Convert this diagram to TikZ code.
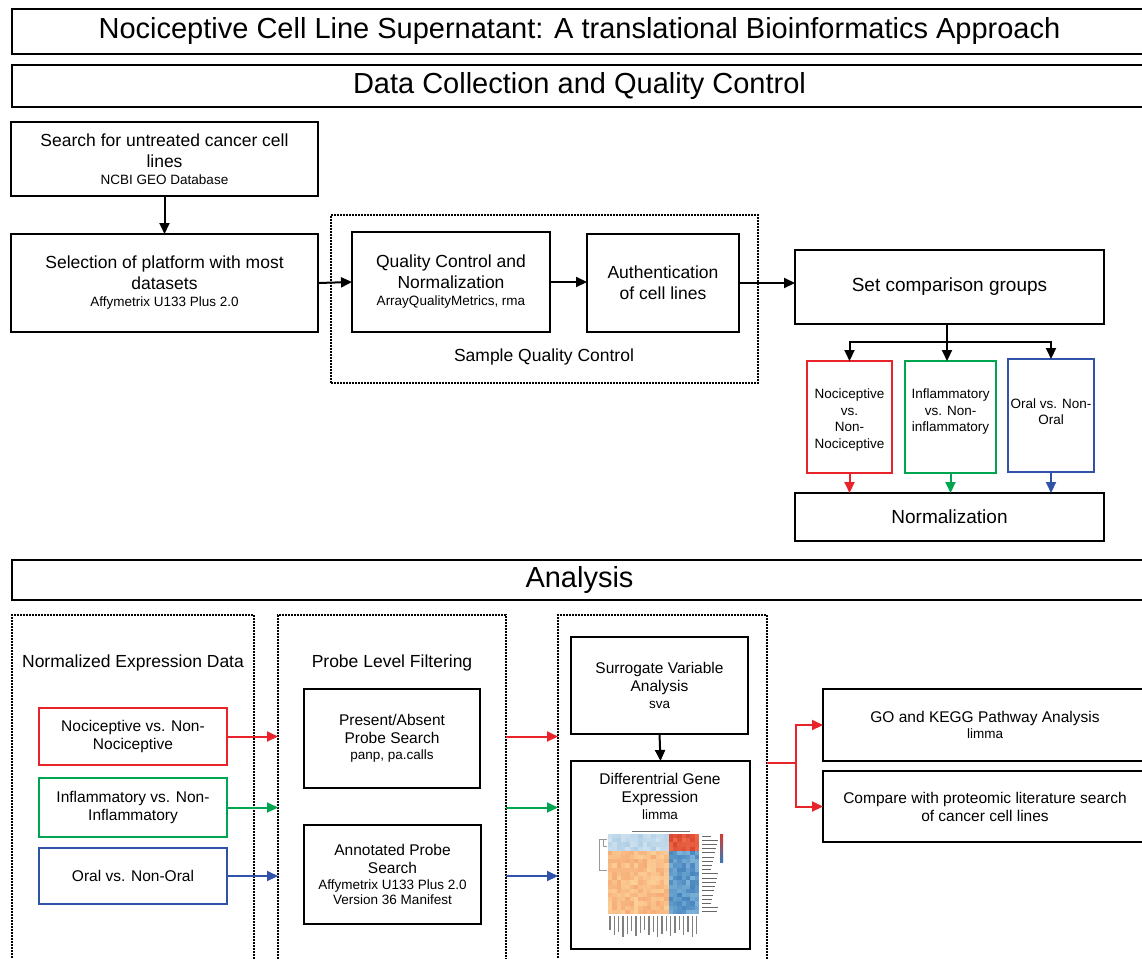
\documentclass[tikz,border=0pt]{standalone}
\usepackage{fontspec}
\setmainfont{Liberation Sans}
\usetikzlibrary{arrows.meta}
\definecolor{cred}{RGB}{232,35,42}
\definecolor{cgreen}{RGB}{0,165,80}
\definecolor{cblue}{RGB}{48,82,168}
\definecolor{hmA}{RGB}{210,228,240}\definecolor{hmAd}{RGB}{165,200,226}
\definecolor{hmB}{RGB}{238,110,72}\definecolor{hmBd}{RGB}{212,58,44}
\definecolor{hmC}{RGB}{252,208,152}\definecolor{hmCd}{RGB}{244,160,108}
\definecolor{hmD}{RGB}{125,178,216}\definecolor{hmDd}{RGB}{55,120,182}
\newcommand\mysub[1]{{\fontsize{13.5}{16}\selectfont #1}}
\begin{document}
\begin{tikzpicture}[x=1pt,y=-1pt,
 box/.style={draw=black, line width=2.2pt, inner sep=0pt, outer sep=0pt, align=center},
 cbox/.style={draw=#1, line width=2pt, inner sep=0pt, outer sep=0pt, align=center},
 dotbox/.style={draw=black, line width=2pt, dash pattern=on 1.6pt off 1.4pt, inner sep=0pt, outer sep=0pt},
 sz/.style 2 args={minimum width=#1pt, minimum height=#2pt},
 arr/.style={line width=2pt, -{Triangle[length=11pt,width=10pt]}},
 bigf/.style={font=\fontsize{29}{34}\selectfont},
 upf/.style={font=\fontsize{17.5}{21}\selectfont},
 lowf/.style={font=\fontsize{15.5}{18}\selectfont},
 smf/.style={font=\fontsize{13.5}{16.5}\selectfont},
 midf/.style={font=\fontsize{19}{23}\selectfont},
 txt/.style={inner sep=0pt, align=center},
]
\useasboundingbox (0,0) rectangle (1142,958);
\clip (0,0) rectangle (1142,958);
\fill[white] (0,0) rectangle (1142,958);

% headers
\node[box,bigf,sz={1135}{45}] (title) at (579.5,31.5) {Nociceptive Cell Line Supernatant: A translational Bioinformatics Approach};
\node[box,bigf,sz={1135}{42}] (sec1) at (579.5,86) {Data Collection and Quality Control};

% data collection
\node[box,upf,sz={307}{74}] (search) at (164.5,159) {Search for untreated cancer cell\\lines\\[-4pt]\mysub{NCBI GEO Database}};
\node[box,upf,sz={307}{98}] (sel) at (164.5,283) {Selection of platform with most\\datasets\\[-4pt]\mysub{Affymetrix U133 Plus 2.0}};
\node[dotbox,sz={427}{168}] (sqc) at (544.5,299) {};
\node[box,upf,sz={198}{100}] (qc) at (451,282) {Quality Control and\\Normalization\\[-4pt]\mysub{ArrayQualityMetrics, rma}};
\node[box,upf,sz={152}{98}] (auth) at (663,283) {Authentication\\of cell lines};
\node[txt,upf] (sqclbl) at (544,357) {Sample Quality Control};
\node[box,midf,sz={309}{74}] (set) at (949.5,287) {Set comparison groups};

\node[cbox=cred,sz={85}{112}] (nocibox) at (849.5,417) {};
\node[txt,smf] (nocitxt) at (849.5,420) {Nociceptive\\vs.\\Non-\\Nociceptive};
\node[cbox=cgreen,sz={91}{112}] (inflbox) at (950.5,417) {};
\node[txt,smf] (infltxt) at (950.5,412) {Inflammatory\\vs. Non-\\inflammatory};
\node[cbox=cblue,sz={86}{113}] (oralbox) at (1051,415.5) {};
\node[txt,smf] (oraltxt) at (1051,411.5) {Oral vs. Non-\\Oral};
\node[box,midf,sz={309}{48}] (norm) at (949.5,517) {Normalization};

\coordinate (br) at (947,342);

\draw[arr] (search.south) -- (sel.north);
\draw[arr] (sel.east) -- (qc.west);
\draw[arr] (qc.east) -- (qc.east -| auth.west);
\draw[arr] (auth.east) -- (auth.east -| set.west);
\draw[line width=2pt] (set.south -| br) -- (br);
\draw[arr] (br) -| (nocibox.north);
\draw[arr] (br) -- (br |- inflbox.north);
\draw[arr] (br) -| (oralbox.north);
\draw[arr,cred] (nocibox.south) -- (nocibox.south |- norm.north);
\draw[arr,cgreen] (inflbox.south) -- (inflbox.south |- norm.north);
\draw[arr,cblue] (oralbox.south) -- (oralbox.south |- norm.north);

% analysis
\node[box,bigf,sz={1135}{40}] (anal) at (579.5,580) {Analysis};
\node[dotbox,sz={242}{360}] (nedot) at (133,795) {};
\node[dotbox,sz={228}{360}] (plfdot) at (392,795) {};
\node[dotbox,sz={209}{360}] (dgedot) at (662.5,795) {};
\node[txt,upf] (nelbl) at (133,663) {Normalized Expression Data};
\node[txt,upf] (plflbl) at (392,663) {Probe Level Filtering};

\node[cbox=cred,lowf,sz={188}{57}] (n1) at (133,736.5) {Nociceptive vs. Non-\\Nociceptive};
\node[cbox=cgreen,lowf,sz={188}{59}] (n2) at (133,807.5) {Inflammatory vs. Non-\\Inflammatory};
\node[cbox=cblue,lowf,sz={188}{56}] (n3) at (133,876) {Oral vs. Non-Oral};

\node[box,lowf,sz={176}{99}] (pa) at (392,738.5) {Present/Absent\\Probe Search\\[-2pt]\mysub{panp, pa.calls}};
\node[box,lowf,sz={177}{99}] (ann) at (392.5,874.5) {Annotated Probe\\Search\\[-2pt]\mysub{Affymetrix U133 Plus 2.0}\\[-3pt]\mysub{Version 36 Manifest}};

\node[box,lowf,sz={177}{97}] (sva) at (659.5,685.5) {Surrogate Variable\\Analysis\\[-1pt]\mysub{sva}};
\node[box,sz={179}{188}] (dge) at (660.5,855) {};
\node[txt,lowf] (dgetxt) at (660,796) {Differentrial Gene\\Expression\\[-1pt]\mysub{limma}};

\node[box,lowf,sz={324}{72}] (go) at (985,725) {GO and KEGG Pathway Analysis\\[-2pt]\mysub{limma}};
\node[box,lowf,sz={324}{71}] (cmp) at (985,806.5) {Compare with proteomic literature search\\of cancer cell lines};

% heatmap
\pgfmathsetseed{11}
\foreach \i in {0,...,20}{
  \foreach \j in {0,...,18}{
    \pgfmathtruncatemacro\v{25+75*rnd}
    \ifnum\i<14
      \ifnum\j<4 \def\ca{hmA}\def\cb{hmAd}\else\def\ca{hmC}\def\cb{hmCd}\fi
    \else
      \ifnum\j<4 \def\ca{hmB}\def\cb{hmBd}\else\def\ca{hmD}\def\cb{hmDd}\fi
    \fi
    \colorlet{cc}{\ca!\v!\cb}
    \fill[cc] (608+\i*4.333,834+\j*4.21) rectangle ++(4.333,4.21);
  }
}
\foreach \j in {0,...,18}{
  \draw[black!60, line width=0.9pt] (702,836+\j*4.21) -- ++({9+mod(\j*7,8)},0);
}
\foreach \i in {0,...,20}{
  \draw[black!50, line width=1.5pt] (610+\i*4.333,916) -- ++(0,{14+mod(\i*5,8)});
}
\draw[black!40, line width=0.8pt] (607,839) -| (599,870) -- (607,870);
\draw[black!40, line width=0.6pt] (603,839) -- (603,846) -- (607,846);
\draw[black!55, line width=1pt] (632,831) -- (690,831);
\shade[top color=hmBd, middle color=hmC!60!white, bottom color=hmDd] (720,834) rectangle (723,862);

% analysis connectors
\draw[arr,cred] (n1.east) -- (n1.east -| plfdot.west);
\draw[arr,cgreen] (n2.east) -- (n2.east -| plfdot.west);
\draw[arr,cblue] (n3.east) -- (n3.east -| plfdot.west);
\draw[arr,cred] (n1.east -| plfdot.east) -- (n1.east -| dgedot.west);
\draw[arr,cgreen] (n2.east -| plfdot.east) -- (n2.east -| dgedot.west);
\draw[arr,cblue] (n3.east -| plfdot.east) -- (n3.east -| dgedot.west);
\draw[arr] (sva.south) -- (dge.north);
\coordinate (rb) at (796,763);
\draw[cred,line width=2pt] (dgedot.east |- rb) -- (rb);
\draw[arr,cred] (rb) |- (go.west);
\draw[arr,cred] (rb) |- (cmp.west);
\end{tikzpicture}
\end{document}
